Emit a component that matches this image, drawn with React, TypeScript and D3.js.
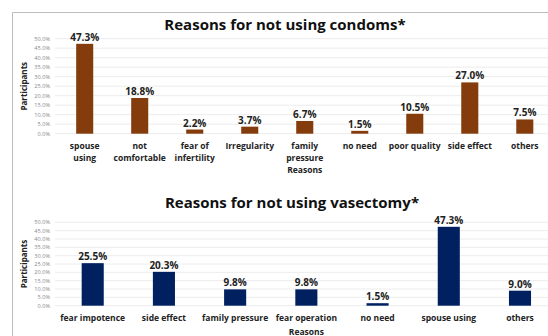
import React from "react";
import * as d3 from "d3";

// condoms chart
const condomReasons = [
  ["spouse", "using"],
  ["not", "comfortable"],
  ["fear of", "infertility"],
  ["Irregularity"],
  ["family", "pressure"],
  ["no need"],
  ["poor quality"],
  ["side effect"],
  ["others"],
];
const condomKeys = ["spouse using", "not comfortable", "fear of infertility", "Irregularity", "family pressure", "no need", "poor quality", "side effect", "others"];
const condomValues = [47.3, 18.8, 2.2, 3.7, 6.7, 1.5, 10.5, 27.0, 7.5];

// vasectomy chart
const vasectomyKeys = ["fear impotence", "side effect", "family pressure", "fear operation", "no need", "spouse using", "others"];
const vasectomyValues = [25.5, 20.3, 9.8, 9.8, 1.5, 47.3, 9.0];

const yTicks = [0, 5, 10, 15, 20, 25, 30, 35, 40, 45, 50];

const FONT = "'Open Sans', sans-serif";

function BarPanel(props: any) {
  const { keys, lines, values, color, title, titleX, titleY, y0, y1, x0, x1, pad, labelY, reasonsY } = props;

  const yScale = d3.scaleLinear().domain([0, 50]).range([y0, y1]);
  const xScale = d3
    .scaleBand()
    .domain(keys)
    .range([x0, x1])
    .paddingInner(pad)
    .paddingOuter(pad / 2);

  return (
    <g>
      <text x={titleX} y={titleY} textAnchor="middle" fontFamily={FONT} fontWeight="bold" fontSize={15} fill="#111">
        {title}
      </text>
      {/* grid + y axis labels */}
      {yTicks.map((t) => (
        <g key={t}>
          <line x1={55} x2={548} y1={yScale(t)} y2={yScale(t)} stroke="#ececec" strokeWidth={1} />
          <text x={50} y={yScale(t) + 2} textAnchor="end" fontFamily={FONT} fontSize={5.6} fill="#8a8a8a">
            {t.toFixed(1)}%
          </text>
        </g>
      ))}
      <text
        transform={`translate(27,${(y0 + y1) / 2}) rotate(-90)`}
        textAnchor="middle"
        fontFamily={FONT}
        fontWeight="bold"
        fontSize={8}
        fill="#222"
      >
        Participants
      </text>
      {keys.map((k: string, i: number) => {
        const x = xScale(k)!;
        const w = xScale.bandwidth();
        const v = values[i];
        return (
          <g key={k}>
            <rect x={x} y={yScale(v)} width={w} height={y0 - yScale(v)} fill={color} />
            <text x={x + w / 2} y={yScale(v) - 3} textAnchor="middle" fontFamily={FONT} fontWeight="bold" fontSize={10} fill="#222">
              {v.toFixed(1)}%
            </text>
            {(lines ? lines[i] : [k]).map((ln: string, j: number) => (
              <text key={j} x={x + w / 2} y={labelY + j * 12} textAnchor="middle" fontFamily={FONT} fontWeight="bold" fontSize={8.5} fill="#222">
                {ln}
              </text>
            ))}
          </g>
        );
      })}
      <text x={(x0 + x1) / 2} y={reasonsY} textAnchor="middle" fontFamily={FONT} fontWeight="bold" fontSize={8.5} fill="#222">
        Reasons
      </text>
    </g>
  );
}

export default function App() {
  return (
    <svg width={548} height={336} style={{ position: "absolute", left: 0, top: 0, background: "#fff" }}>
      <rect x={0} y={0} width={548} height={336} fill="#fff" />
      <line x1={12.5} x2={548} y1={12.5} y2={12.5} stroke="#bdbdbd" />
      <line x1={12.5} x2={12.5} y1={12.5} y2={336} stroke="#bdbdbd" />
      <BarPanel
        keys={condomKeys}
        lines={condomReasons}
        values={condomValues}
        color="#843c0c"
        title="Reasons for not using condoms*"
        titleX={285}
        titleY={30}
        y0={133.7}
        y1={38.7}
        x0={57.2}
        x1={552.3}
        pad={0.69}
        labelY={149}
        reasonsY={173}
      />
      <BarPanel
        keys={vasectomyKeys}
        values={vasectomyValues}
        color="#002060"
        title="Reasons for not using vasectomy*"
        titleX={292}
        titleY={208}
        y0={305.7}
        y1={222.3}
        x0={57.1}
        x1={555.6}
        pad={0.69}
        labelY={321}
        reasonsY={335}
      />
    </svg>
  );
}
